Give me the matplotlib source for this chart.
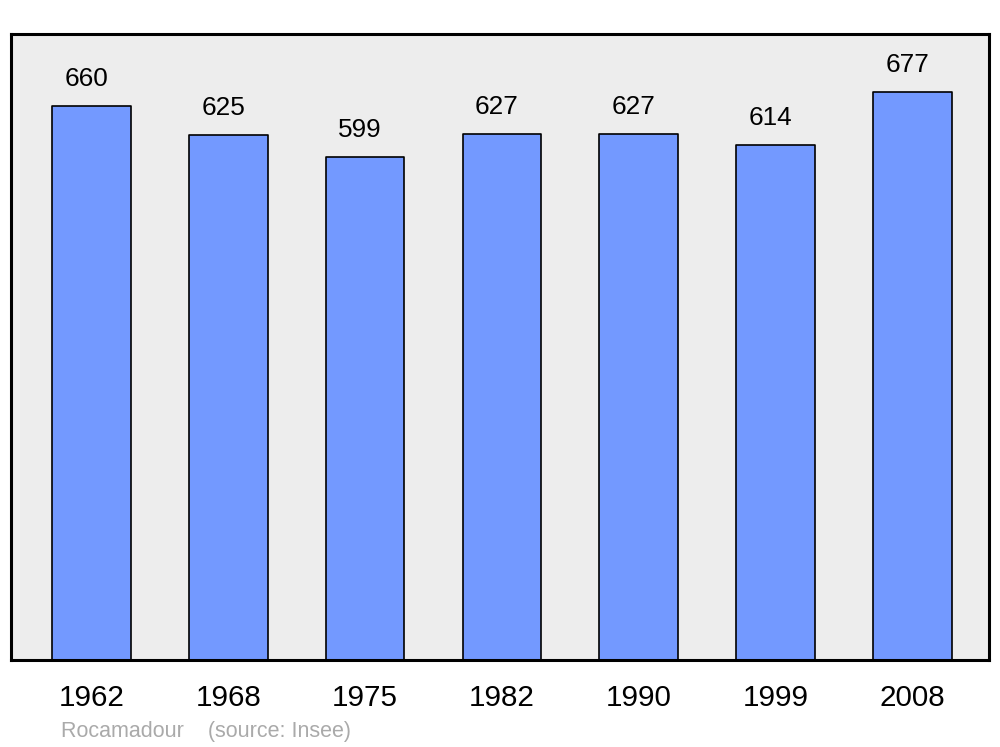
import matplotlib
matplotlib.use("Agg")
import matplotlib.pyplot as plt

years = ["1962", "1968", "1975", "1982", "1990", "1999", "2008"]
population = [660, 625, 599, 627, 627, 614, 677]
footer = "Rocamadour    (source: Insee)"

plt.rcParams['font.family'] = ['Liberation Sans', 'DejaVu Sans']

fig = plt.figure(figsize=(10, 7.47), dpi=100)
ax = fig.add_axes([11/1000, (747-660)/747, 978/1000, 626/747])
ax.set_facecolor('#EDEDED')

x = list(range(len(years)))
bars = ax.bar(x, population, width=0.575, color='#7399FF', edgecolor='black',
              linewidth=1.2, zorder=2)
for b in bars:
    b.set_joinstyle('round')

for xi, v in zip(x, population):
    ax.annotate(str(v), (xi, v), xytext=(-5, 27), textcoords='offset pixels',
                ha='center', va='center', fontsize=18.8)

ax.set_xlim(-0.588, 6.559)
ax.set_ylim(0, 745.8)
ax.set_xticks(x)
ax.set_xticklabels(years, fontsize=21.3)
ax.tick_params(axis='x', length=0, pad=17)
ax.set_yticks([])
for s in ax.spines.values():
    s.set_linewidth(2.2)
    s.set_joinstyle('round')

fig.text(61/1000, 1 - 731/747, footer, color='#AAAAAA', fontsize=15.5,
         ha='left', va='center')

fig.savefig('out.png', dpi=100)
